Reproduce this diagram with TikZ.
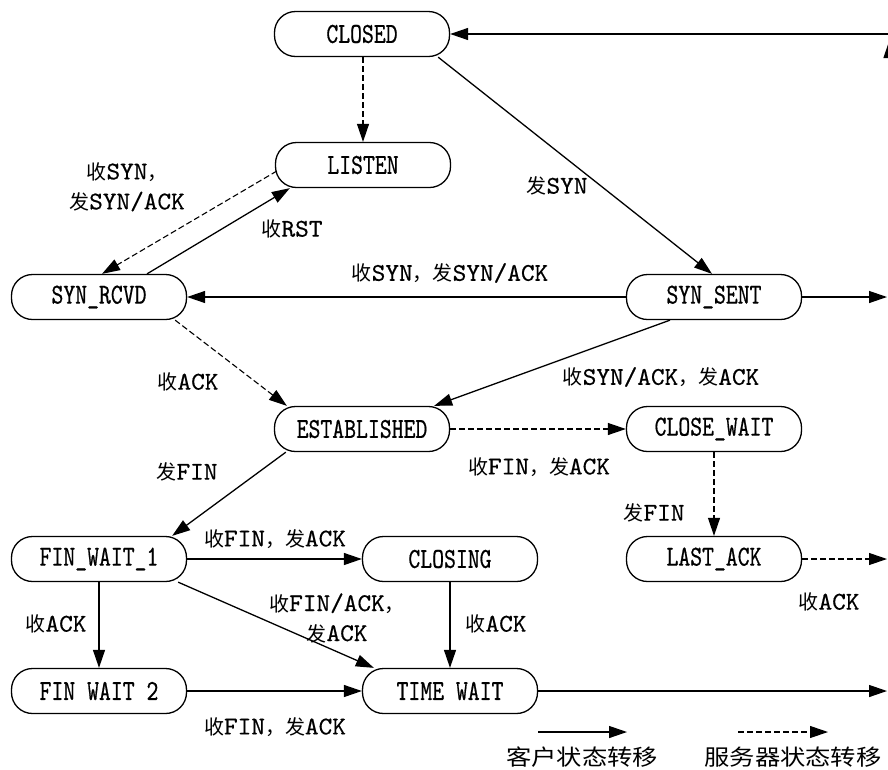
\documentclass[tikz,border=0pt]{standalone}
\usepackage{fontspec}
\newfontfamily\nodefnt{lmmono10-regular.otf}[FakeStretch=0.78,FakeBold=0.6]
\newfontfamily\labfnt{lmmono10-regular.otf}[FakeStretch=1.02,FakeBold=0.5]
\newfontfamily\cjkfnt{Noto Sans CJK SC}
\newfontfamily\cjkwide{Noto Sans CJK SC}[FakeStretch=1.15]
\newcommand\zh[1]{{\cjkfnt\fontsize{20}{24}\selectfont #1}}
\usetikzlibrary{arrows.meta,calc}
\tikzset{
  state/.style={draw, line width=1.3pt, rounded corners=21pt, minimum width=175pt,
    minimum height=45pt, inner sep=0pt, font=\nodefnt\fontsize{29}{32}\selectfont},
  lab/.style={font=\labfnt\fontsize{25.5}{30}\selectfont, align=center, inner sep=0pt},
  leg/.style={font=\cjkwide\fontsize{22}{24}\selectfont, inner sep=0pt},
  cli/.style={line width=1.3pt, -{Triangle[length=18pt,width=12pt]}},
  srv/.style={line width=1.1pt, dash pattern=on 6pt off 3pt, -{Triangle[length=18pt,width=12pt]}}
}
\begin{document}
\begin{tikzpicture}[x=1pt,y=-1pt]
\useasboundingbox (0,0) rectangle (888,769);
\fill[white] (0,0) rectangle (888,769);
\clip (0,0) rectangle (888,769);

% states
\node[state] (closed)  at (362,34)  {CLOSED};
\node[state] (listen)  at (363,165) {LISTEN};
\node[state] (synrcvd) at (99,297)  {SYN\_RCVD};
\node[state] (synsent) at (714,297) {SYN\_SENT};
\node[state] (estab)   at (362,429) {ESTABLISHED};
\node[state] (clwait)  at (714,429) {CLOSE\_WAIT};
\node[state] (fw1)     at (99,559)  {FIN\_WAIT\_1};
\node[state] (closing) at (450,559) {CLOSING};
\node[state] (lastack) at (714,559) {LAST\_ACK};
\node[state] (fw2)     at (99,691)  {FIN WAIT 2};
\node[state] (tw)      at (450,691) {TIME WAIT};

% free ends at the right edge
\coordinate (rclosed) at (895,34);
\coordinate (rupA) at (889.5,120);
\coordinate (rupB) at (889.5,40);
\coordinate (rsent) at (887,297);
\coordinate (rlast) at (887,559);
\coordinate (rtw) at (887,691);

% client transitions
\draw[cli] (rclosed) -- (closed.east);
\draw[cli] (rupA) -- (rupB);
\draw[cli] ([xshift=-12pt]closed.south east) -- ([xshift=-2pt]synsent.north);
\draw[cli] ([xshift=48pt]synrcvd.north) -- ([xshift=15pt]listen.south west);
\draw[cli] (synsent.west) -- (synrcvd.east);
\draw[cli] (synsent.east) -- (rsent);
\draw[cli] ([xshift=-44pt]synsent.south) -- ([xshift=-16pt]estab.north east);
\draw[cli] ([xshift=12pt]estab.south west) -- ([xshift=-15pt]fw1.north east);
\draw[cli] (fw1.east) -- (closing.west);
\draw[cli] ([xshift=-9pt]fw1.south east) -- ([xshift=12pt]tw.north west);
\draw[cli] (fw1.south) -- (fw2.north);
\draw[cli] (closing.south) -- (tw.north);
\draw[cli] (fw2.east) -- (tw.west);
\draw[cli] (tw.east) -- (rtw);

% server transitions
\draw[srv] ([xshift=1pt]closed.south) -- ([xshift=1pt]closed.south |- listen.north);
\draw[srv] ([xshift=2pt,yshift=-6pt]listen.west) -- ([xshift=3pt]synrcvd.north);
\draw[srv] ([xshift=-12pt]synrcvd.south east) -- ([xshift=13pt]estab.north west);
\draw[srv] (estab.east) -- (clwait.west);
\draw[srv] (clwait.south) -- (lastack.north);
\draw[srv] (lastack.east) -- (rlast);

% labels
\node[lab] (l1) at (557,186) {\zh{发}SYN};
\node[lab] (l2) at (127,187) {\zh{收}SYN\zh{，}\\\zh{发}SYN/ACK};
\node[lab] (l3) at (292,229) {\zh{收}RST};
\node[lab] (l4) at (450,273) {\zh{收}SYN\zh{，发}SYN/ACK};
\node[lab] (l5) at (188,382) {\zh{收}ACK};
\node[lab] (l6) at (661,377) {\zh{收}SYN/ACK\zh{，发}ACK};
\node[lab] (l7) at (187,472) {\zh{发}FIN};
\node[lab] (l8) at (539,467) {\zh{收}FIN\zh{，发}ACK};
\node[lab] (l9) at (654,513) {\zh{发}FIN};
\node[lab] (l10) at (275,539) {\zh{收}FIN\zh{，发}ACK};
\node[lab] (l11) at (829,602) {\zh{收}ACK};
\node[lab] (l12) at (56,624) {\zh{收}ACK};
\node[lab] (l13) at (337,618) {\zh{收}FIN/ACK\zh{，}\\\zh{发}ACK};
\node[lab] (l14) at (496,624) {\zh{收}ACK};
\node[lab] (l15) at (275,727) {\zh{收}FIN\zh{，发}ACK};

% legend
\coordinate (lcA) at (538,732);
\coordinate (lcB) at (627,732);
\coordinate (lsA) at (738,732);
\coordinate (lsB) at (828,732);
\draw[cli] (lcA) -- (lcB);
\draw[srv] (lsA) -- (lsB);
\node[leg] (legc) at (582,757) {客户状态转移};
\node[leg] (legs) at (793,757) {服务器状态转移};
\end{tikzpicture}
\end{document}
